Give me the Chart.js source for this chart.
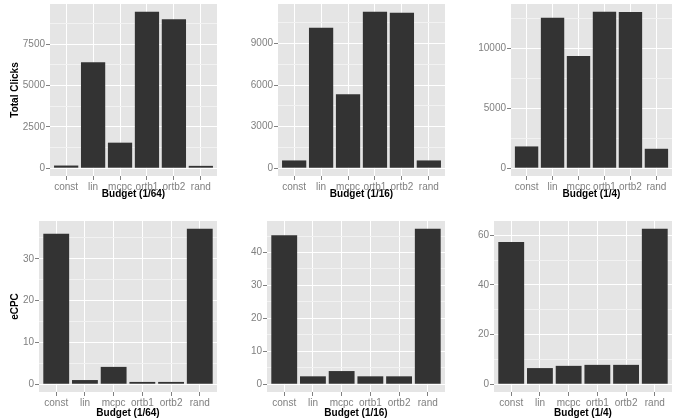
<!DOCTYPE html>
<html lang="en">
<head>
<meta charset="UTF-8">
<title>Total Clicks and eCPC by Budget</title>
<script src="https://cdn.jsdelivr.net/npm/chart.js"></script>
<style>
  body { margin: 0; background: #fff; }
  #wrap { position: relative; width: 683px; height: 420px; }
  canvas { position: absolute; }
</style>
</head>
<body>
<div id="wrap">
  <canvas id="c1" width="228" height="205" style="left:0;top:0"></canvas>
  <canvas id="c2" width="227" height="205" style="left:228px;top:0"></canvas>
  <canvas id="c3" width="228" height="205" style="left:455px;top:0"></canvas>
  <canvas id="c4" width="228" height="210" style="left:0;top:210px"></canvas>
  <canvas id="c5" width="227" height="210" style="left:228px;top:210px"></canvas>
  <canvas id="c6" width="228" height="210" style="left:455px;top:210px"></canvas>
</div>
<script>
// data
const categories = ['const', 'lin', 'mcpc', 'ortb1', 'ortb2', 'rand'];

const clicks64 = [160, 6420, 1545, 9470, 9025, 140];
const clicks16 = [560, 10140, 5350, 11300, 11230, 560];
const clicks4 = [1815, 12550, 9355, 13050, 13040, 1620];

const ecpc64 = [36.0, 1.0, 4.15, 0.55, 0.55, 37.2];
const ecpc16 = [45.2, 2.4, 4.0, 2.4, 2.4, 47.2];
const ecpc4 = [57.3, 6.5, 7.4, 7.8, 7.8, 62.6];

const clicks64Ticks = [0, 2500, 5000, 7500];
const clicks16Ticks = [0, 3000, 6000, 9000];
const clicks4Ticks = [0, 5000, 10000];
const ecpc64Ticks = [0, 10, 20, 30];
const ecpc16Ticks = [0, 10, 20, 30, 40];
const ecpc4Ticks = [0, 20, 40, 60];

const FONT = "'Liberation Sans', Arial, Helvetica, sans-serif";
const TICK_GREY = '#808080';

// grey ggplot-style panel behind the grid
const panelBg = {
  id: 'panelBg',
  beforeDraw(chart) {
    const { ctx, chartArea: a } = chart;
    ctx.save();
    ctx.fillStyle = '#E5E5E5';
    ctx.fillRect(a.left, a.top, a.right - a.left, a.bottom - a.top);
    ctx.restore();
  }
};

function makePanel(p) {
  const step = p.ticks[1] - p.ticks[0];
  const top = Math.max(...p.values);
  const yMin = -0.05 * top;
  const yMax = 1.05 * top;
  // major breaks plus the minor ones halfway between
  const gridVals = [];
  for (let v = p.ticks[0]; v <= yMax; v += step / 2) gridVals.push(v);
  const isMajor = v => p.ticks.includes(v);

  new Chart(document.getElementById(p.id), {
    type: 'bar',
    data: {
      datasets: [{
        data: p.values.map((v, i) => ({ x: i + 1, y: v })),
        backgroundColor: '#333333',
        borderWidth: 0,
        categoryPercentage: 0.9,
        barPercentage: 1
      }]
    },
    options: {
      responsive: false,
      animation: false,
      events: [],
      layout: { autoPadding: false, padding: { top: p.padTop, right: p.padRight, left: 0, bottom: 0 } },
      plugins: { legend: { display: false }, tooltip: { enabled: false } },
      scales: {
        x: {
          type: 'linear',
          offset: false,
          min: 0.4,
          max: 6.6,
          afterBuildTicks: s => { s.ticks = categories.map((c, i) => ({ value: i + 1 })); },
          afterFit: s => { s.height = p.xAxisH; s.paddingLeft = 0; s.paddingRight = 0; },
          ticks: {
            callback: v => categories[v - 1],
            color: TICK_GREY,
            font: { family: FONT, size: 10 },
            padding: 1,
            maxRotation: 0,
            autoSkip: false
          },
          grid: { offset: false, color: '#ffffff', lineWidth: 1, tickColor: TICK_GREY, tickLength: 4 },
          border: { display: false },
          title: {
            display: true,
            text: p.xTitle,
            color: '#000',
            font: { family: FONT, size: 10, weight: 'bold' },
            padding: { top: 0, bottom: p.xTitlePad }
          }
        },
        y: {
          min: yMin,
          max: yMax,
          afterBuildTicks: s => { s.ticks = gridVals.map(v => ({ value: v })); },
          afterFit: s => { s.width = p.yAxisW; s.paddingTop = 0; s.paddingBottom = 0; },
          ticks: {
            callback: v => isMajor(v) ? String(v) : '',
            color: TICK_GREY,
            font: { family: FONT, size: 10 },
            padding: 1,
            autoSkip: false
          },
          grid: {
            color: c => isMajor(c.tick.value) ? '#ffffff' : '#F2F2F2',
            lineWidth: 1,
            tickColor: c => isMajor(c.tick.value) ? TICK_GREY : 'rgba(0,0,0,0)',
            tickLength: 4
          },
          border: { display: false },
          title: {
            display: !!p.yTitle,
            text: p.yTitle || '',
            color: '#000',
            font: { family: FONT, size: 10, weight: 'bold' },
            padding: { top: 9, bottom: 0 }
          }
        }
      }
    },
    plugins: [panelBg]
  });
}

makePanel({ id: 'c1', values: clicks64, ticks: clicks64Ticks, yTitle: 'Total Clicks', xTitle: 'Budget (1/64)',
  yAxisW: 50, padTop: 4, padRight: 11, xAxisH: 29, xTitlePad: 5 });
makePanel({ id: 'c2', values: clicks16, ticks: clicks16Ticks, xTitle: 'Budget (1/16)',
  yAxisW: 50, padTop: 4, padRight: 10, xAxisH: 29, xTitlePad: 5 });
makePanel({ id: 'c3', values: clicks4, ticks: clicks4Ticks, xTitle: 'Budget (1/4)',
  yAxisW: 56, padTop: 4, padRight: 11, xAxisH: 29, xTitlePad: 5 });
makePanel({ id: 'c4', values: ecpc64, ticks: ecpc64Ticks, yTitle: 'eCPC', xTitle: 'Budget (1/64)',
  yAxisW: 39, padTop: 11, padRight: 11, xAxisH: 28, xTitlePad: 1 });
makePanel({ id: 'c5', values: ecpc16, ticks: ecpc16Ticks, xTitle: 'Budget (1/16)',
  yAxisW: 39, padTop: 11, padRight: 10, xAxisH: 28, xTitlePad: 1 });
makePanel({ id: 'c6', values: ecpc4, ticks: ecpc4Ticks, xTitle: 'Budget (1/4)',
  yAxisW: 39, padTop: 11, padRight: 11, xAxisH: 28, xTitlePad: 1 });
</script>
</body>
</html>
